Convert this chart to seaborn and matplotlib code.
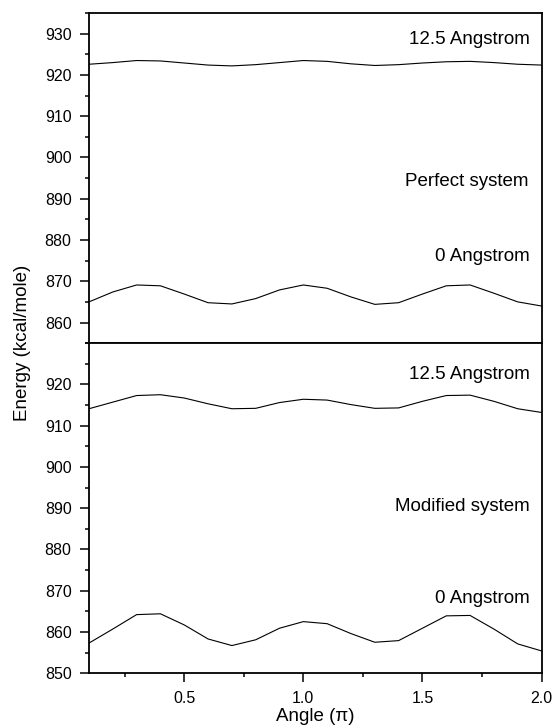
import numpy as np
import pandas as pd
import matplotlib
matplotlib.use("Agg")
import matplotlib.pyplot as plt
from matplotlib.ticker import MultipleLocator
import seaborn as sns

# Datos (energia vs angulo)
angulo = [0.1, 0.2, 0.3, 0.4, 0.5, 0.6, 0.7, 0.8, 0.9, 1.0,
          1.1, 1.2, 1.3, 1.4, 1.5, 1.6, 1.7, 1.8, 1.9, 2.0]

perfecto_125 = [922.6, 923.0, 923.5, 923.4, 922.9, 922.4, 922.2, 922.5, 923.0, 923.5,
                923.3, 922.7, 922.3, 922.5, 922.9, 923.2, 923.3, 923.0, 922.6, 922.4]
perfecto_0 = [865.0, 867.4, 869.1, 868.9, 866.9, 864.8, 864.5, 865.8, 867.9, 869.1,
              868.3, 866.2, 864.4, 864.8, 866.9, 868.9, 869.1, 867.1, 865.0, 864.0]

modificado_125 = [914.1, 915.7, 917.3, 917.5, 916.7, 915.3, 914.1, 914.2, 915.6, 916.4,
                  916.2, 915.1, 914.2, 914.3, 915.9, 917.3, 917.4, 915.9, 914.1, 913.2]
modificado_0 = [857.3, 860.7, 864.2, 864.4, 861.7, 858.3, 856.7, 858.1, 860.9, 862.5,
                862.0, 859.6, 857.5, 857.9, 860.9, 863.9, 864.0, 860.7, 857.1, 855.4]

sns.set_style("ticks")
plt.rcParams['font.family'] = ['Liberation Sans', 'DejaVu Sans']
plt.rcParams['text.color'] = 'black'
plt.rcParams['axes.labelcolor'] = 'black'

fig = plt.figure(figsize=(5.56, 7.27), dpi=100)
ax_sup = fig.add_axes([0.160, 0.528, 0.814, 0.454])
ax_inf = fig.add_axes([0.160, 0.074, 0.814, 0.454])

def df_largo(s125, s0):
    return pd.DataFrame({
        'angulo': angulo * 2,
        'energia': s125 + s0,
        'serie': ['12.5'] * len(angulo) + ['0'] * len(angulo),
    })

for ax, s125, s0 in [(ax_sup, perfecto_125, perfecto_0),
                     (ax_inf, modificado_125, modificado_0)]:
    sns.lineplot(data=df_largo(s125, s0), x='angulo', y='energia', units='serie',
                 estimator=None, color='black', lw=0.8, ax=ax, legend=False)
    ax.set_xlim(0.1, 2.0)
    ax.xaxis.set_major_locator(MultipleLocator(0.5))
    ax.xaxis.set_minor_locator(MultipleLocator(0.25))
    ax.yaxis.set_major_locator(MultipleLocator(10))
    ax.yaxis.set_minor_locator(MultipleLocator(5))
    ax.tick_params(axis='both', which='major', direction='out', length=6.5, width=1.1,
                   labelsize=11.5, colors='black', pad=6)
    ax.tick_params(axis='x', which='major', pad=6.5)
    ax.tick_params(axis='both', which='minor', direction='out', length=3.2, width=1.1,
                   colors='black')
    ax.tick_params(top=False, right=False, which='both')
    for sp in ax.spines.values():
        sp.set_visible(True)
        sp.set_linewidth(1.3)
        sp.set_color('black')
    ax.set_xlabel('')
    ax.set_ylabel('')

fs = 13.5

# Panel superior
ax_sup.set_ylim(855, 935)
ax_sup.set_yticks([860, 870, 880, 890, 900, 910, 920, 930])
ax_sup.tick_params(axis='x', which='both', bottom=False, labelbottom=False)
ax_sup.text(1.952, 928.5, '12.5 Angstrom', ha='right', va='center', fontsize=fs)
ax_sup.text(1.945, 894.1, 'Perfect system', ha='right', va='center', fontsize=fs)
ax_sup.text(1.952, 875.9, '0 Angstrom', ha='right', va='center', fontsize=fs)

# Panel inferior
ax_inf.set_ylim(850, 930)
ax_inf.set_yticks([850, 860, 870, 880, 890, 900, 910, 920])
ax_inf.text(1.952, 922.4, '12.5 Angstrom', ha='right', va='center', fontsize=fs)
ax_inf.text(1.952, 890.5, 'Modified system', ha='right', va='center', fontsize=fs)
ax_inf.text(1.952, 868.2, '0 Angstrom', ha='right', va='center', fontsize=fs)
ax_inf.set_xlabel('Angle (π)', fontsize=fs, labelpad=1)

fig.text(0.04, 0.528, 'Energy (kcal/mole)', rotation=90, ha='center', va='center',
         fontsize=fs)

fig.savefig('out.png', dpi=100)
